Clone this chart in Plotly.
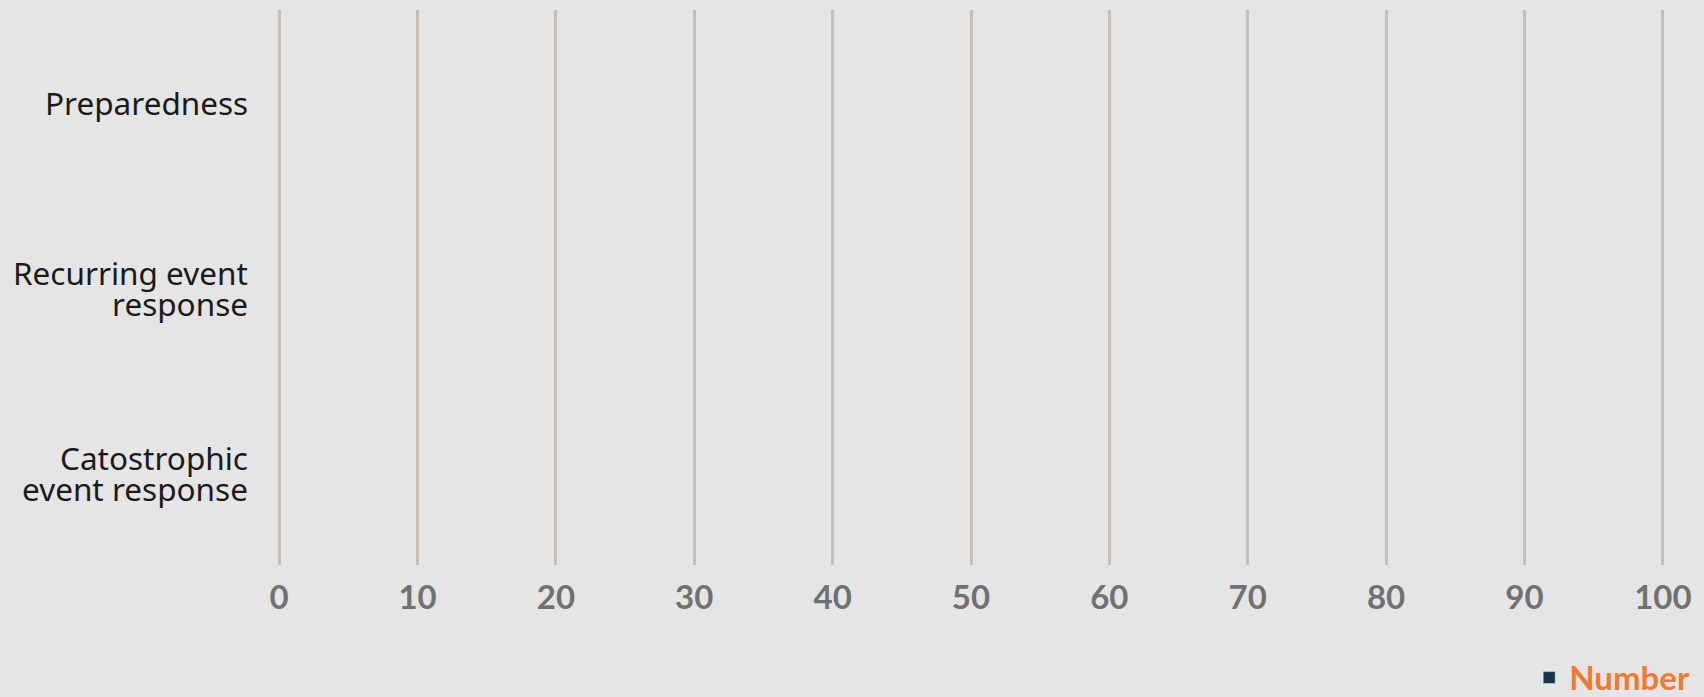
import plotly.graph_objects as go

categories = ["Preparedness", "Recurring event<br>response", "Catostrophic<br>event response"]
values = [None, None, None]
series_name = "Number"
x_ticks = [0, 10, 20, 30, 40, 50, 60, 70, 80, 90, 100]

fig = go.Figure()
fig.add_trace(go.Bar(
    y=categories,
    x=values,
    orientation="h",
    name=series_name,
    marker=dict(color="#17344f"),
    showlegend=True,
))

# category labels drawn line by line (tighter line spacing than tick labels allow)
line_gap = 31
for cat in categories:
    lines = cat.split("<br>")
    n = len(lines)
    for i, ln in enumerate(lines):
        fig.add_annotation(
            x=0, xref="paper", xanchor="right", xshift=-26,
            y=cat, yref="y", yanchor="middle",
            yshift=((n - 1) / 2 - i) * line_gap,
            text=ln, showarrow=False, align="right",
            borderpad=0,
            font=dict(family="Noto Sans", size=31.5, color="#1a1a1a"),
        )

fig.update_layout(
    width=1704,
    height=697,
    paper_bgcolor="#e5e5e5",
    plot_bgcolor="#e5e5e5",
    margin=dict(l=275, r=37, t=10, b=132, autoexpand=False),
    showlegend=True,
    legend=dict(
        x=0.901, xanchor="left",
        y=-0.203, yanchor="middle",
        font=dict(family="Lato", size=33, color="#f07a32", weight="bold"),
        bgcolor="rgba(0,0,0,0)",
    ),
    xaxis=dict(
        range=[-0.3, 100.3],
        tickvals=x_ticks,
        showgrid=True,
        gridcolor="#c9bfb9",
        gridwidth=3,
        zeroline=False,
        showline=False,
        ticks="",
        tickfont=dict(family="Lato", size=33, color="#717171", weight="bold"),
        ticklabelstandoff=10,
        fixedrange=True,
    ),
    yaxis=dict(
        type="category",
        categoryorder="array",
        categoryarray=categories,
        autorange="reversed",
        showgrid=False,
        zeroline=False,
        showline=False,
        ticks="",
        showticklabels=False,
        fixedrange=True,
    ),
)

fig.write_html(
    "out.html",
    config={"displayModeBar": False},
    post_script="document.body.style.margin='0';document.body.style.background='#e5e5e5';",
)
